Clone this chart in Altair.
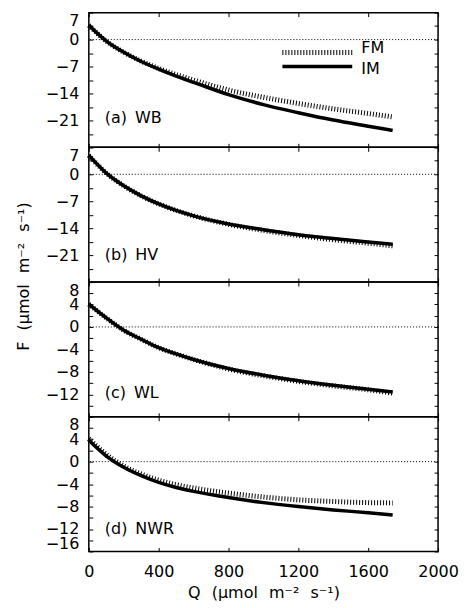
import altair as alt
import pandas as pd

# ---------------- data ----------------
Q = [0, 100, 200, 300, 400, 500, 600, 800, 1000, 1200, 1400, 1600, 1740]

WB_FM = [3.7, -0.4, -3.3, -5.6, -7.5, -9.1, -10.5, -13.1, -15.0, -16.6, -18.0, -19.2, -20.1]
WB_IM = [3.7, -0.4, -3.3, -5.7, -7.7, -9.5, -11.1, -14.3, -16.9, -19.0, -20.9, -22.5, -23.6]
HV_FM = [4.9, 0.3, -3.0, -5.6, -7.7, -9.4, -10.8, -13.0, -14.6, -15.9, -17.0, -17.9, -18.6]
HV_IM = [4.9, 0.3, -3.0, -5.6, -7.7, -9.4, -10.8, -12.9, -14.4, -15.7, -16.7, -17.6, -18.2]
WL_FM = [4.05, 1.6, -0.6, -2.2, -3.7, -4.8, -5.8, -7.5, -8.7, -9.7, -10.5, -11.2, -11.8]
WL_IM = [4.05, 1.6, -0.6, -2.2, -3.7, -4.8, -5.8, -7.4, -8.6, -9.6, -10.4, -11.1, -11.6]
NWR_FM = [4.1, 1.3, -0.8, -2.2, -3.3, -4.1, -4.7, -5.6, -6.3, -6.8, -7.1, -7.3, -7.35]
NWR_IM = [3.8, 1.0, -1.0, -2.5, -3.7, -4.6, -5.3, -6.4, -7.3, -8.0, -8.6, -9.1, -9.5]

PANEL_LABELS = ["(a)\u2002WB", "(b)\u2002HV", "(c)\u2002WL", "(d)\u2002NWR"]
SERIES = ["FM", "IM"]
X_TICKS = [0, 400, 800, 1200, 1600, 2000]
X_DOMAIN = [0, 2000]
Y_TICKS_7 = [7, 3.5, 0, -3.5, -7, -10.5, -14, -17.5, -21, -24.5, -28]
Y_TICKS_4 = [8, 6, 4, 2, 0, -2, -4, -6, -8, -10, -12, -14, -16]
Y_LABELS = [
    [7, 0, -7, -14, -21],
    [7, 0, -7, -14, -21],
    [8, 4, 0, -4, -8, -12],
    [8, 4, 0, -4, -8, -12, -16],
]
Y_DOMAINS = [[-28, 7], [-28, 7], [-16, 8], [-16, 8]]
ZERO = [0]
GAP = "\u2002\u2009"
X_TITLE = "Q" + GAP + "(\u03bcmol" + GAP + "m\u207b\u00b2" + GAP + "s\u207b\u00b9)"
Y_TITLE = "F" + GAP + "(\u03bcmol" + GAP + "m\u207b\u00b2" + GAP + "s\u207b\u00b9)"

FONT = "DejaVu Sans"
W, H = 350, 135
INWARD = alt.ExprRef(expr="-4")

panels_data = [(WB_FM, WB_IM), (HV_FM, HV_IM), (WL_FM, WL_IM), (NWR_FM, NWR_IM)]
label_y = [106, 108, 111, 113]


def make_panel(i):
    fm, im = panels_data[i]
    df = pd.DataFrame({"Q": Q, "FM": fm, "IM": im})
    xs = alt.Scale(domain=X_DOMAIN, nice=False, zero=False)
    ys = alt.Scale(domain=Y_DOMAINS[i], nice=False, zero=False)
    last = i == 3
    lab_expr = ("indexof([" + ",".join(str(v) for v in Y_LABELS[i]) +
                "], datum.value) >= 0 ? datum.label : ''")
    yticks = Y_TICKS_7 if i < 2 else Y_TICKS_4

    left_kwargs = dict(
        values=yticks, format="d", labelExpr=lab_expr, labelFlush=True,
        labelFlushOffset=0, labelOverlap=False, tickSize=INWARD, labelPadding=14,
        domain=False, grid=False, labelFont=FONT, labelFontSize=16,
        labelColor="black", tickColor="black", tickWidth=1,
    )
    if i == 1:
        left_kwargs.update(title=Y_TITLE, titleX=-65, titleY=129, titleAngle=270,
                           titleAlign="center", titleBaseline="middle",
                           titleFont=FONT, titleFontSize=16, titleFontWeight="normal",
                           titleColor="black")
    else:
        left_kwargs.update(title=None)

    bottom_kwargs = dict(
        values=X_TICKS, format="d", tickSize=INWARD, domain=False, grid=False,
        labels=last, labelPadding=16, labelFont=FONT, labelFontSize=16,
        labelColor="black", tickColor="black", tickWidth=1, labelFlush=False,
        labelOverlap=False,
    )
    if last:
        bottom_kwargs.update(title=X_TITLE, titleFont=FONT, titleFontSize=16,
                             titleFontWeight="normal", titleColor="black",
                             titlePadding=5)
    else:
        bottom_kwargs.update(title=None)

    base = alt.Chart(df)
    fm_line = base.mark_line(color="black", strokeWidth=5, strokeDash=[1, 2],
                             strokeCap="butt", interpolate="monotone").encode(
        x=alt.X("Q:Q", scale=xs,
                axis=alt.Axis(orient="top", values=X_TICKS, labels=False,
                              tickSize=INWARD, domain=False, grid=False,
                              title=None, tickColor="black")),
        y=alt.Y("FM:Q", scale=ys, axis=None),
    )
    im_line = base.mark_line(color="black", strokeWidth=3.5,
                             interpolate="monotone").encode(
        x=alt.X("Q:Q", scale=xs, axis=alt.Axis(**bottom_kwargs)),
        y=alt.Y("IM:Q", scale=ys, axis=alt.Axis(**left_kwargs)),
    )
    zero = alt.Chart(pd.DataFrame({"F": ZERO})).mark_rule(
        color="black", strokeWidth=1, strokeDash=[1, 2]).encode(
        y=alt.Y("F:Q", scale=ys,
                axis=alt.Axis(orient="right", values=yticks, labels=False,
                              tickSize=INWARD, domain=False, grid=False,
                              title=None, tickColor="black")),
    )
    one = pd.DataFrame({"s": [0]})
    label = alt.Chart(one).mark_text(
        text=PANEL_LABELS[i], align="left", baseline="middle",
        font=FONT, fontSize=16, color="black").encode(
        x=alt.value(16), y=alt.value(label_y[i]))

    layers = [zero, fm_line, im_line, label]
    if i == 0:
        leg_fm = alt.Chart(one).mark_rule(color="black", strokeWidth=5,
                                          strokeDash=[1, 2], strokeCap="butt").encode(
            x=alt.value(194), x2=alt.value(264), y=alt.value(40))
        leg_im = alt.Chart(one).mark_rule(color="black", strokeWidth=3.5).encode(
            x=alt.value(194), x2=alt.value(264), y=alt.value(54))
        leg_t1 = alt.Chart(one).mark_text(
            text=SERIES[0], align="left", baseline="middle", font=FONT,
            fontSize=16, color="black").encode(x=alt.value(273), y=alt.value(35))
        leg_t2 = alt.Chart(one).mark_text(
            text=SERIES[1], align="left", baseline="middle", font=FONT,
            fontSize=16, color="black").encode(x=alt.value(273), y=alt.value(56))
        layers += [leg_fm, leg_im, leg_t1, leg_t2]

    return alt.layer(*layers).resolve_axis(x="independent", y="independent").properties(
        width=W, height=H)


chart = alt.vconcat(*[make_panel(i) for i in range(4)], spacing=0,
                    bounds="flush").properties(
    padding={"left": 7, "top": 2, "right": 0, "bottom": 0},
    background="white",
).configure_view(stroke="black", strokeWidth=1.5).configure_axis(
    labelFont=FONT, titleFont=FONT)

chart.save("out.html", embed_options={"renderer": "svg", "actions": False})
